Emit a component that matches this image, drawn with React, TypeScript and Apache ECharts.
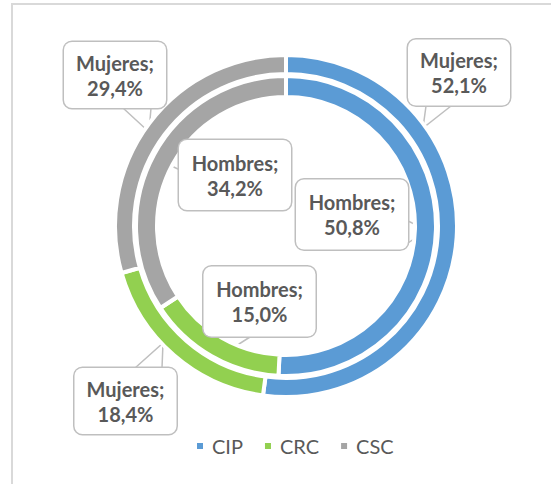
import React, { useEffect, useRef } from "react";
import * as echarts from "echarts";

const categories = ["CIP", "CRC", "CSC"];
const seriesNames = ["Mujeres", "Hombres"];
const mujeres = [52.1, 18.4, 29.4];
const hombres = [50.8, 15.0, 34.2];

const colors = ["#5B9BD5", "#92D050", "#A5A5A5"];
const textColor = "#595959";
const boxBorder = "#BFBFBF";

// callout layout: box centre, pointer base points and tip (pixels)
type Callout = { cx: number; cy: number; b1: number[]; tip: number[]; b2: number[] };
const calloutLayout: Callout[][] = [
  [
    { cx: 459, cy: 72.5, b1: [426, 106], tip: [423, 128], b2: [451, 106] },
    { cx: 125.5, cy: 401, b1: [135, 368], tip: [163, 343], b2: [162, 368] },
    { cx: 115, cy: 75, b1: [123, 108], tip: [149, 132], b2: [151, 108] },
  ],
  [
    { cx: 352, cy: 214.5, b1: [408, 221], tip: [427, 230], b2: [408, 243] },
    { cx: 259.5, cy: 301.5, b1: [215, 337], tip: [225, 353], b2: [250, 337] },
    { cx: 235, cy: 175, b1: [180, 157], tip: [163, 162], b2: [180, 170] },
  ],
];

const fmt = (v: number) => v.toFixed(1).replace(".", ",") + "%";

export default function App() {
  const ref = useRef<HTMLDivElement>(null);
  useEffect(() => {
    document.body.style.margin = "0";
    if (!ref.current) return;
    const chart = echarts.init(ref.current, undefined, { renderer: "svg" });

    const makeSeries = (idx: number, values: number[], radius: number[], padV: number) => ({
      type: "pie",
      name: seriesNames[idx],
      center: [286, 226],
      radius,
      startAngle: 90,
      clockwise: true,
      avoidLabelOverlap: false,
      itemStyle: { borderColor: "#ffffff", borderWidth: 4 },
      emphasis: { disabled: true },
      label: {
        show: true,
        position: "outside",
        formatter: (p: any) => `${p.seriesName};\n${fmt(p.value)}`,
        fontFamily: "Lato",
        fontWeight: "bold",
        fontSize: 20,
        lineHeight: 25,
        color: textColor,
        backgroundColor: "#ffffff",
        borderColor: boxBorder,
        borderWidth: 1.5,
        borderRadius: 8,
        padding: [padV, 10],
        width: idx === 0 ? 82 : 92,
        align: "center",
      },
      labelLine: {
        show: true,
        length: 10,
        length2: 10,
        smooth: false,
        lineStyle: { color: boxBorder, width: 1.5 },
      },
      labelLayout: (params: any) => {
        const c = calloutLayout[idx][params.dataIndex];
        return {
          x: c.cx,
          y: c.cy,
          align: "center",
          verticalAlign: "middle",
          labelLinePoints: [c.b1, c.tip, c.b2],
        };
      },
      data: categories.map((name, i) => ({ name, value: values[i] })),
    });

    chart.setOption({
      animation: false,
      color: colors,
      graphic: [
        {
          type: "rect",
          shape: { x: 12, y: 4, width: 700, height: 700 },
          style: { fill: "none", stroke: "#D9D9D9", lineWidth: 2 },
          silent: true,
        },
      ],
      legend: {
        data: categories,
        left: 190,
        top: 431,
        icon: "rect",
        itemWidth: 8,
        itemHeight: 8,
        itemGap: 20,
        textStyle: {
          fontFamily: "Lato",
          fontSize: 20,
          color: textColor,
          padding: [0, 0, 0, 3],
        },
      },
      series: [
        makeSeries(0, mujeres, [152, 171], 8),
        makeSeries(1, hombres, [129, 150], 10),
      ],
    });
    return () => chart.dispose();
  }, []);
  return <div ref={ref} style={{ width: 551, height: 484 }} />;
}
